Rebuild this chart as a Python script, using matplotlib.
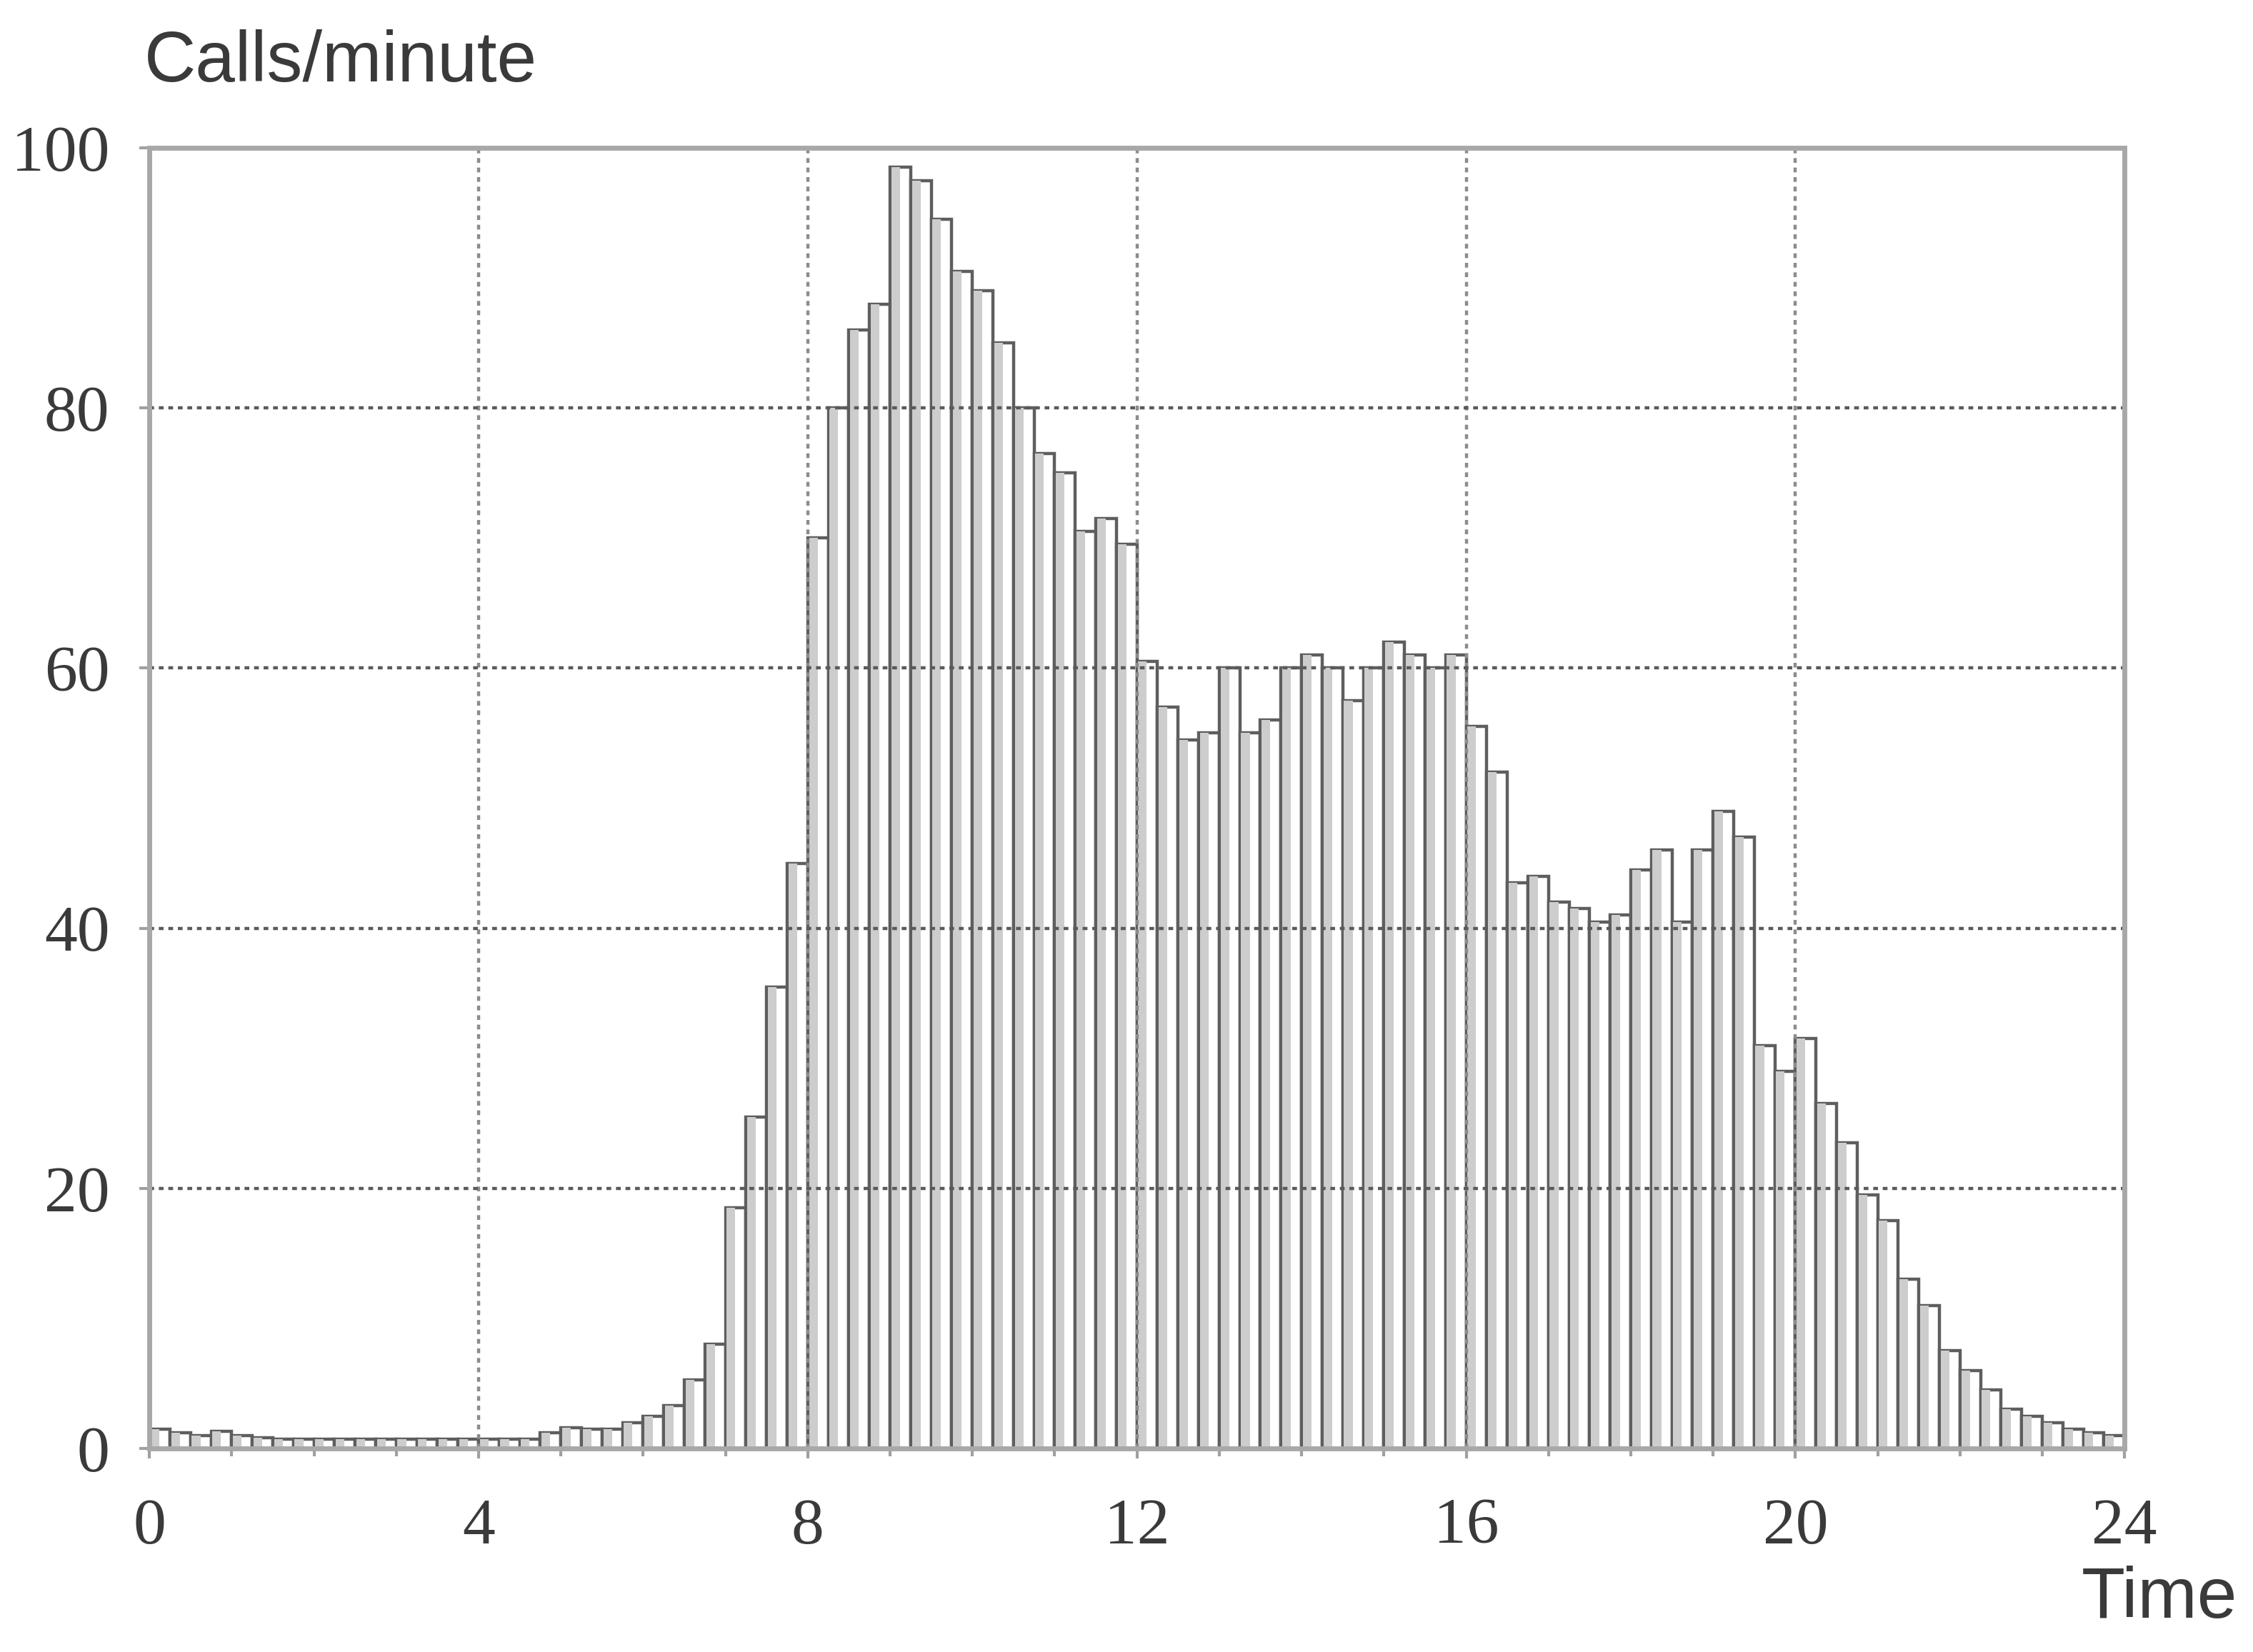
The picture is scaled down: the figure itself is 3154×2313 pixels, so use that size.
import numpy as np
import matplotlib.pyplot as plt
from matplotlib.ticker import MultipleLocator

# Calls per minute, one value per 15-minute slot (0:00 .. 23:45)
hours_0_4 = [1.5, 1.2, 1.0, 1.3, 1.0, 0.8, 0.7, 0.7,
             0.7, 0.7, 0.7, 0.7, 0.7, 0.7, 0.7, 0.7]
hours_4_8 = [0.7, 0.7, 0.7, 1.2, 1.6, 1.5, 1.5, 2.0,
             2.5, 3.3, 5.3, 8.0, 18.5, 25.5, 35.5, 45.0]
hours_8_12 = [70.0, 80.0, 86.0, 88.0, 98.5, 97.5, 94.5, 90.5,
              89.0, 85.0, 80.0, 76.5, 75.0, 70.5, 71.5, 69.5]
hours_12_16 = [60.5, 57.0, 54.5, 55.0, 60.0, 55.0, 56.0, 60.0,
               61.0, 60.0, 57.5, 60.0, 62.0, 61.0, 60.0, 61.0]
hours_16_20 = [55.5, 52.0, 43.5, 44.0, 42.0, 41.5, 40.5, 41.0,
               44.5, 46.0, 40.5, 46.0, 49.0, 47.0, 31.0, 29.0]
hours_20_24 = [31.5, 26.5, 23.5, 19.5, 17.5, 13.0, 11.0, 7.5,
               6.0, 4.5, 3.0, 2.5, 2.0, 1.5, 1.2, 1.0]
calls = hours_0_4 + hours_4_8 + hours_8_12 + hours_12_16 + hours_16_20 + hours_20_24
slot = 0.25
starts = np.arange(len(calls)) * slot

fig = plt.figure(figsize=(31.54, 23.13), dpi=100)
ax = fig.add_axes([0.0663, 0.1232, 0.8767, 0.7873])

# white bar with dark outline, light-grey stripe on its left part
ax.bar(starts, calls, width=slot, align='edge', color='white',
       edgecolor='#5e5e5e', linewidth=3.2, zorder=2)
ax.bar(starts + 0.015, calls, width=slot * 0.42, align='edge', color='#cdcdcd',
       edgecolor='none', zorder=2.5)

ax.set_xlim(0, 24)
ax.set_ylim(0, 100)
ax.xaxis.set_major_locator(MultipleLocator(4))
ax.xaxis.set_minor_locator(MultipleLocator(1))
ax.yaxis.set_major_locator(MultipleLocator(20))

# dotted grid drawn over the bars
for gx in range(4, 24, 4):
    ax.axvline(gx, color='#8c8c8c', linestyle=(0, (1.5, 1.5)), linewidth=3.2, zorder=3)
for gy in range(20, 100, 20):
    ax.axhline(gy, color='#5a5a5a', linestyle=(0, (1.5, 1.5)), linewidth=3.2, zorder=3)

for s in ax.spines.values():
    s.set_color('#a8a8a8')
    s.set_linewidth(5)
    s.set_zorder(4)

ax.tick_params(which='both', direction='out', color='#a0a0a0', width=3)
ax.tick_params(which='major', length=10)
ax.tick_params(which='minor', length=8)
ax.tick_params(axis='x', pad=40)
ax.tick_params(axis='y', pad=30)
for lbl in ax.get_xticklabels() + ax.get_yticklabels():
    lbl.set_family('Liberation Serif')
    lbl.set_fontsize(66)
    lbl.set_color('#3a3a3a')

fig.text(0.064, 0.962, 'Calls/minute', family=['Liberation Sans Narrow', 'Liberation Sans'],
         fontsize=72, color='#3a3a3a', ha='left', va='center')
fig.text(0.993, 0.032, 'Time', family=['Liberation Sans Narrow', 'Liberation Sans'],
         fontsize=72, color='#3a3a3a', ha='right', va='center')

fig.savefig('out.png', dpi=100, facecolor='white')
